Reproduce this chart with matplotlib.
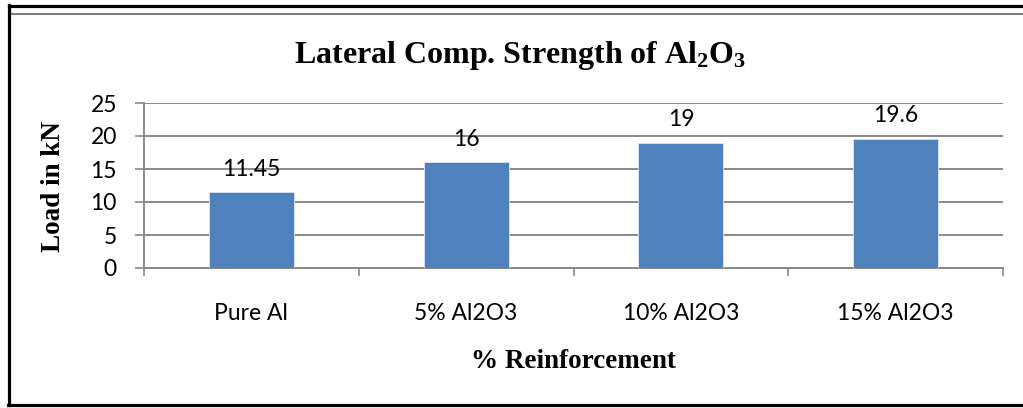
import numpy as np
import matplotlib
matplotlib.use("Agg")
import matplotlib.pyplot as plt
from matplotlib.lines import Line2D

plt.rcParams.update({"mathtext.fontset": "custom",
                     "mathtext.rm": "Liberation Serif",
                     "mathtext.bf": "Liberation Serif:bold"})

categories = ["Pure Al", "5% Al2O3", "10% Al2O3", "15% Al2O3"]
loads = [11.45, 16, 19, 19.6]
value_labels = ["11.45", "16", "19", "19.6"]
yticks = [0, 5, 10, 15, 20, 25]

BAR = "#4f81bd"
GRID = "#898989"
W, H = 1023, 408

fig = plt.figure(figsize=(W / 100, H / 100), dpi=100)
ax = fig.add_axes([144 / W, 1 - 268 / H, (1003 - 144) / W, (268 - 103) / H])

x = np.arange(len(categories))
ax.bar(x, loads, width=0.395, color=BAR, edgecolor="#dbe5f1", lw=0.6, zorder=3)
for xi, v, lab in zip(x, loads, value_labels):
    ax.annotate(lab, (xi, v), xytext=(0, 12), textcoords="offset points",
                ha="center", va="baseline", fontsize=16.5, family="Lato")

ax.set_xlim(-0.5, len(categories) - 0.5)
ax.set_ylim(0, 25)
ax.set_yticks(yticks)
ax.set_yticklabels([str(t) for t in yticks], fontsize=16.5, family="Lato")
ax.yaxis.grid(True, color=GRID, lw=1.4, zorder=0)
ax.tick_params(axis="y", length=6.5, color=GRID, width=1.2, pad=13)

ax.set_xticks(x)
ax.set_xticklabels(categories, fontsize=16.5, family="Lato")
ax.set_xticks(np.arange(len(categories) + 1) - 0.5, minor=True)
ax.tick_params(axis="x", which="major", length=0, pad=25)
ax.tick_params(axis="x", which="minor", length=6, color=GRID, width=1.2)

for s in ["top", "right"]:
    ax.spines[s].set_visible(False)
for s in ["left", "bottom"]:
    ax.spines[s].set_color(GRID)
    ax.spines[s].set_linewidth(1.4)

fig.text(0.508, 1 - 56 / H, r"Lateral Comp. Strength of $\mathbf{Al_2O_3}$",
         ha="center", va="center", fontsize=23, fontweight="bold", family="Liberation Serif")
fig.text(573 / W, 1 - 362 / H, "% Reinforcement", ha="center", va="center",
         fontsize=19.5, fontweight="bold", family="Liberation Serif")
fig.text(54 / W, 1 - 187 / H, "Load in kN", ha="center", va="center", rotation=90,
         fontsize=19.5, fontweight="bold", family="Liberation Serif")

# outer frame
fig.add_artist(Line2D([8.5 / W, 1], [1 - 6 / H, 1 - 6 / H], transform=fig.transFigure, color="black", lw=2.3))
fig.add_artist(Line2D([10 / W, 1], [1 - 13.5 / H, 1 - 13.5 / H], transform=fig.transFigure, color="#7f7f7f", lw=1.5))
fig.add_artist(Line2D([8.5 / W, 8.5 / W], [1 - 5 / H, 1 - 405 / H], transform=fig.transFigure, color="black", lw=2.3))
fig.add_artist(Line2D([7.5 / W, 1], [1 - 405 / H, 1 - 405 / H], transform=fig.transFigure, color="black", lw=2.3))

fig.savefig("out.png", dpi=100, facecolor="white")
